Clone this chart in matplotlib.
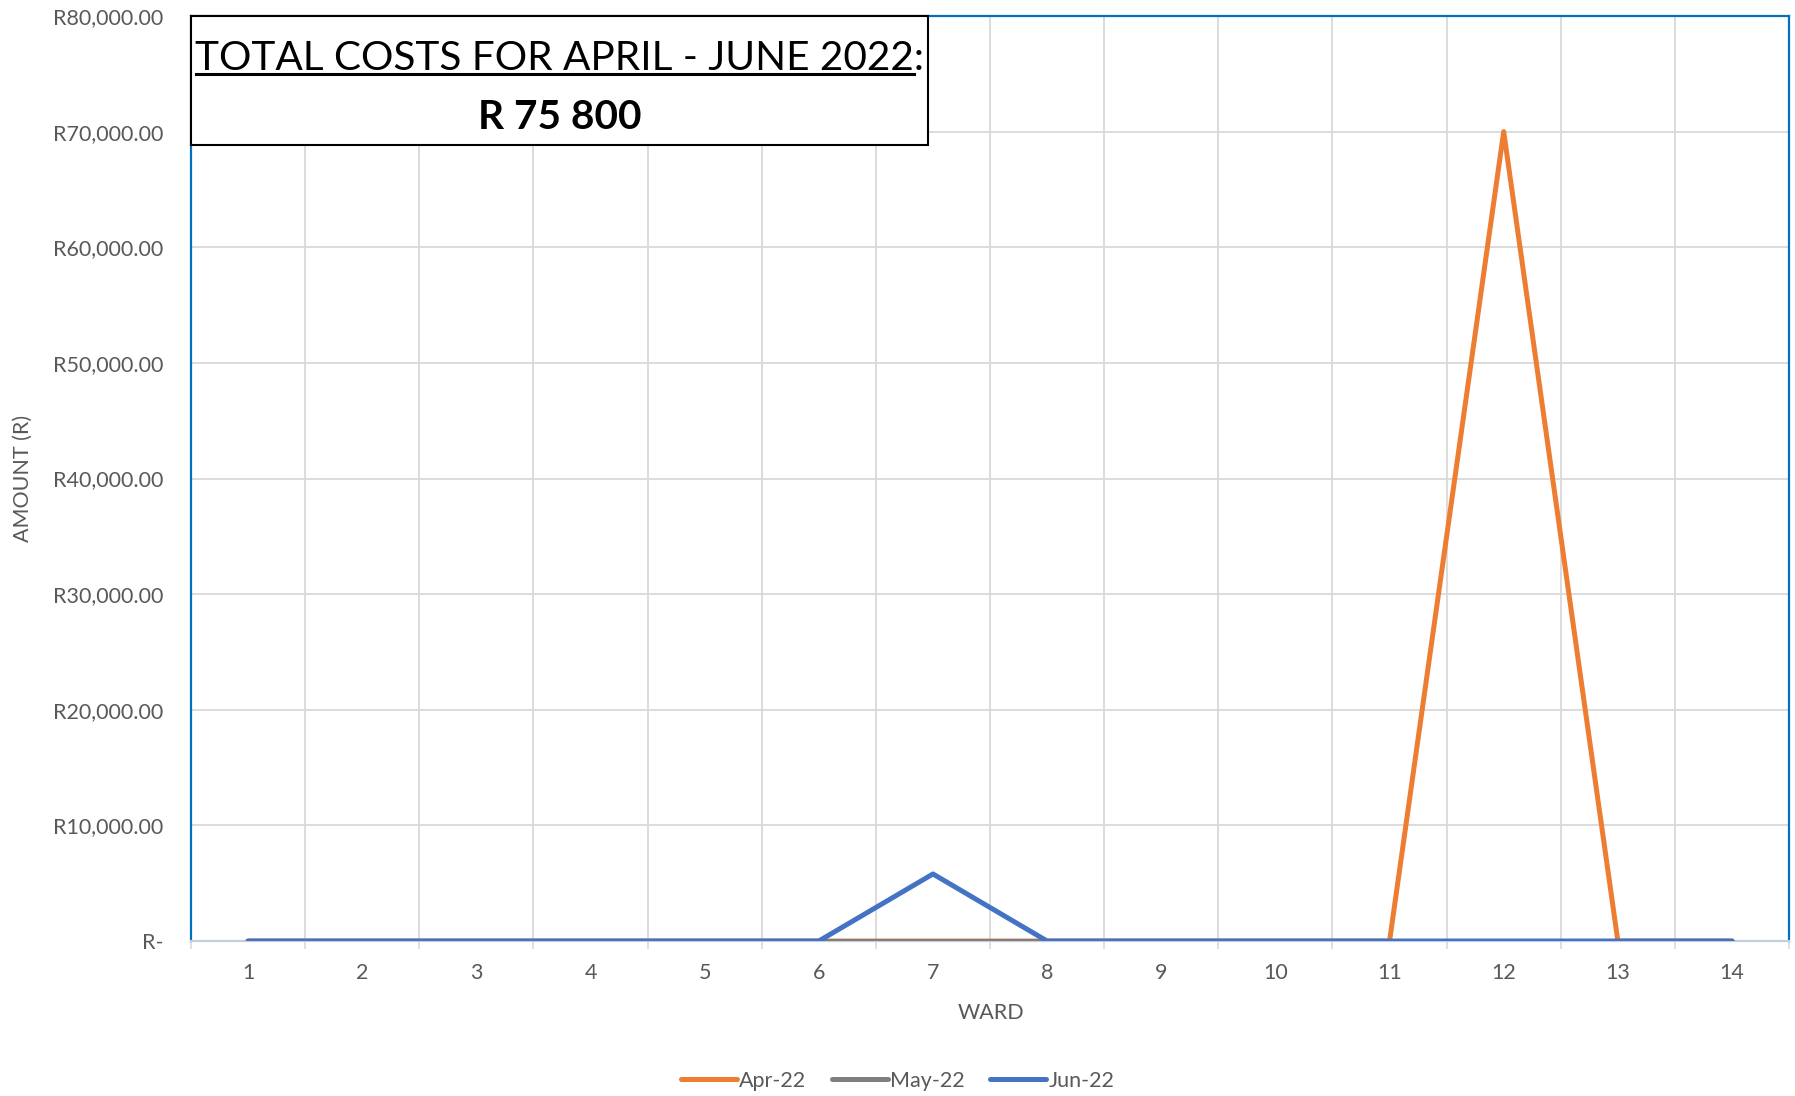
import matplotlib
matplotlib.use("Agg")
import matplotlib.pyplot as plt
from matplotlib.lines import Line2D
from matplotlib.patches import Rectangle
from matplotlib.ticker import FuncFormatter

# data
wards = list(range(1, 15))
apr_22 = [0, 0, 0, 0, 0, 0, 0, 0, 0, 0, 0, 70000, 0, 0]
may_22 = [0, 0, 0, 0, 0, 0, 0, 0, 0, 0, 0, 0, 0, 0]
jun_22 = [0, 0, 0, 0, 0, 0, 5800, 0, 0, 0, 0, 0, 0, 0]
series_names = ["Apr-22", "May-22", "Jun-22"]
series_colors = ["#ED7D31", "#7F7F7F", "#4472C4"]
y_ticks = [0, 10000, 20000, 30000, 40000, 50000, 60000, 70000, 80000]
box_title = "TOTAL COSTS FOR APRIL - JUNE 2022"
box_total = "R 75 800"

plt.rcParams['font.family'] = ['Lato', 'DejaVu Sans']
grey_text = "#595959"
fs = 15.5
title_fs = 29.2

fig = plt.figure(figsize=(17.95, 10.96), dpi=100)
ax = fig.add_axes([0.1064, 0.1414, 0.8903, 0.844])

for vals, name, col in zip([apr_22, may_22, jun_22], series_names, series_colors):
    ax.plot(wards, vals, color=col, lw=3.6, label=name,
            solid_capstyle='round', solid_joinstyle='round', zorder=3)

ax.set_xlim(0.5, 14.5)
ax.set_ylim(0, 80000)

# category axis: labels at wards, ticks/grid between them
ax.set_xticks(wards)
ax.set_xticks([w - 0.5 for w in wards] + [14.5], minor=True)
ax.tick_params(axis='x', which='major', length=0, pad=16, labelsize=fs, labelcolor=grey_text)
ax.tick_params(axis='x', which='minor', length=6, width=1.2, color="#D9D9D9")
ax.grid(True, axis='x', which='minor', color="#D9D9D9", lw=1.3, zorder=0)

ax.set_yticks(y_ticks)
ax.yaxis.set_major_formatter(FuncFormatter(lambda v, p: "R-" if v == 0 else f"R{v:,.2f}"))
ax.tick_params(axis='y', length=0, pad=20, labelsize=fs, labelcolor=grey_text)
ax.grid(True, axis='y', which='major', color="#D9D9D9", lw=1.3, zorder=0)
ax.set_axisbelow(True)

for s in ['left', 'top', 'right']:
    ax.spines[s].set_color("#0070C0")
    ax.spines[s].set_linewidth(1.6)
ax.spines['bottom'].set_color("#C3CFDD")
ax.spines['bottom'].set_linewidth(1.6)

ax.set_ylabel("AMOUNT (R)", fontsize=fs, color=grey_text, va='center')
ax.yaxis.set_label_coords(-0.1051, 0.5)
ax.set_xlabel("WARD", fontsize=fs, color=grey_text)
ax.xaxis.set_label_coords(0.5006, -0.078)
ax.xaxis.label.set_va('center')

# text box with total
box = Rectangle((0, 0.861), 0.461, 0.139, transform=ax.transAxes, facecolor='white',
                edgecolor='black', lw=1.5, zorder=5, clip_on=False)
ax.add_patch(box)
t1 = ax.text(0.2305, 0.9543, box_title + ":", transform=ax.transAxes, ha='center', va='center',
             fontsize=title_fs, color='black', zorder=6)
ax.text(0.2305, 0.8898, box_total, transform=ax.transAxes, ha='center', va='center',
        fontsize=title_fs, fontweight='bold', color='black', zorder=6)

# underline the title (not the colon)
fig.canvas.draw()
r = fig.canvas.get_renderer()
bb = t1.get_window_extent(r)
tmp = fig.text(0, 0, ":", fontsize=title_fs)
colon_w = tmp.get_window_extent(r).width
tmp.remove()
inv = fig.transFigure.inverted()
x0, y0 = inv.transform((bb.x0 + 1, bb.y0 + 3))
x1, _ = inv.transform((bb.x1 - colon_w, bb.y0 + 3))
fig.add_artist(Line2D([x0, x1], [y0, y0], color='black', lw=2.2, zorder=7))

handles = [Line2D([0], [0], color=c, lw=3.6, solid_capstyle='round') for c in series_colors]
leg = fig.legend(handles, series_names, loc='center', bbox_to_anchor=(0.5, 0.0137), ncol=3,
                 frameon=False, fontsize=fs, handlelength=2.6, handletextpad=0.1,
                 columnspacing=1.2)
for t in leg.get_texts():
    t.set_color(grey_text)

fig.savefig("out.png", dpi=100)
